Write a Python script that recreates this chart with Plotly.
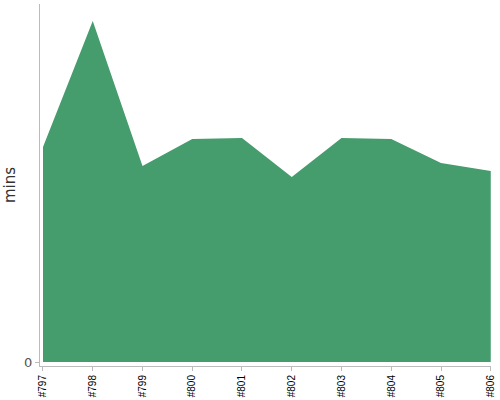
import plotly.graph_objects as go

builds = ["#797", "#798", "#799", "#800", "#801", "#802", "#803", "#804", "#805", "#806"]
mins = [21.5, 34.1, 19.6, 22.3, 22.4, 18.5, 22.4, 22.3, 19.9, 19.1]

fig = go.Figure()
fig.add_trace(go.Scatter(x=list(range(len(builds))), y=mins, mode="none",
                         fill="tozeroy", fillcolor="#459c6c", hoverinfo="x+y"))

fig.update_layout(
    width=500, height=400,
    margin=dict(l=40, r=9, t=4, b=34),
    paper_bgcolor="white", plot_bgcolor="white",
    showlegend=False,
    font=dict(family="DejaVu Sans", color="#444"),
)
fig.update_xaxes(
    range=[-0.06, 9.005], tickmode="array", tickvals=list(range(len(builds))), ticktext=builds,
    tickangle=-90, tickfont=dict(family="Liberation Sans", size=10, color="black"), automargin=False,
    showgrid=False, zeroline=False, showline=True, linecolor="#bbb", linewidth=1,
    ticks="outside", ticklen=4, tickcolor="#bbb",
)
fig.update_yaxes(
    range=[-0.4, 35.8], tickvals=[0], ticktext=["0"], tickfont=dict(size=13, color="#555"),
    showgrid=False, zeroline=False, showline=True, linecolor="#bbb", linewidth=1,
    ticks="outside", ticklen=4, tickcolor="#bbb", automargin=False,
    title=dict(text="mins", font=dict(size=15, color="#333"), standoff=4),
)

# page has a default 8px body margin; drop it so the figure sits at the corner
fig.write_html("out.html", config={"displayModeBar": False},
               post_script="document.body.style.margin='0';")
